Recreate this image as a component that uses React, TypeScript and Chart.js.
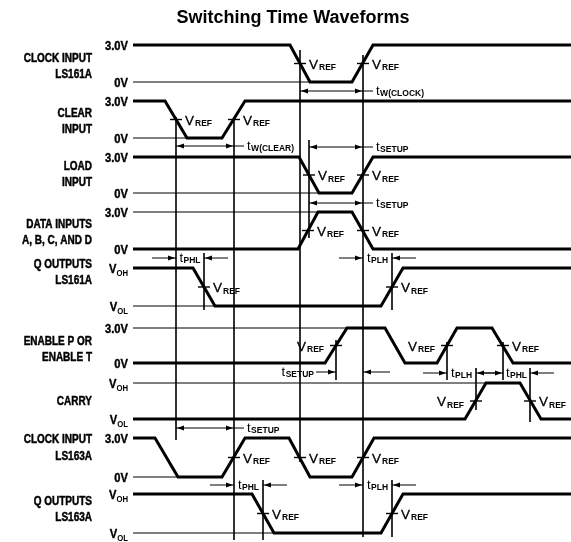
import { useEffect, useRef } from "react";
import { Chart, registerables } from "chart.js";
Chart.register(...registerables);

// ---- Axis extents (diagram units: time on x, signal rows on y) ----
const X_MIN = 0;
const X_MAX = 571;
const Y_MIN = 0;
const Y_MAX = 542;

// ---- Row levels (high / low) ----
const rowHigh = [45, 101, 157, 212, 268, 328, 383, 438, 494];
const rowLow = [82, 138, 193, 249, 306, 363, 419, 477, 533];

// level tick labels ("V|OH" = V with subscript OH)
const highLabels = ["3.0V", "3.0V", "3.0V", "3.0V", "V|OH", "3.0V", "V|OH", "3.0V", "V|OH"];
const lowLabels = ["0V", "0V", "0V", "0V", "V|OL", "0V", "V|OL", "0V", "V|OL"];

// row titles
const rowTitles = [
  ["CLOCK INPUT", "LS161A"],
  ["CLEAR", "INPUT"],
  ["LOAD", "INPUT"],
  ["DATA INPUTS", "A, B, C, AND D"],
  ["Q OUTPUTS", "LS161A"],
  ["ENABLE P OR", "ENABLE T"],
  ["CARRY"],
  ["CLOCK INPUT", "LS163A"],
  ["Q OUTPUTS", "LS163A"],
];

// ---- Waveforms: [time, state 1=high 0=low] ----
const waveClock161 = [[133, 1], [290, 1], [310, 0], [352, 0], [373, 1], [571, 1]];
const waveClear = [[133, 1], [165, 1], [187, 0], [222, 0], [245, 1], [571, 1]];
const waveLoad = [[133, 1], [299, 1], [319, 0], [352, 0], [373, 1], [571, 1]];
const waveData = [[133, 0], [298, 0], [318, 1], [352, 1], [373, 0], [571, 0]];
const waveQ161 = [[133, 1], [193, 1], [215, 0], [381, 0], [403, 1], [571, 1]];
const waveEnable = [[133, 0], [325, 0], [347, 1], [385, 1], [405, 0], [437, 0], [457, 1], [492, 1], [513, 0], [571, 0]];
const waveCarry = [[133, 0], [465, 0], [486, 1], [520, 1], [541, 0], [571, 0]];
const waveClock163 = [[133, 1], [155, 1], [178, 0], [222, 0], [245, 1], [289, 1], [310, 0], [352, 0], [374, 1], [571, 1]];
const waveQ163 = [[133, 1], [252, 1], [274, 0], [381, 0], [403, 1], [571, 1]];
const waves = [waveClock161, waveClear, waveLoad, waveData, waveQ161, waveEnable, waveCarry, waveClock163, waveQ163];

// thin reference level lines: [row, level(1 high / 0 low), from, to]
const levelLines = [
  [0, 0, 133, 310], [1, 0, 133, 187], [2, 0, 133, 319], [3, 1, 133, 318], [4, 0, 133, 215],
  [5, 1, 133, 347], [6, 1, 133, 486], [7, 0, 133, 178], [8, 0, 133, 274],
];

// VREF crossings: [row, time, label side]
const vrefMarks = [
  [0, 300, "R"], [0, 363, "R"], [1, 176, "R"], [1, 234, "R"], [2, 309, "R"], [2, 363, "R"],
  [3, 308, "R"], [3, 363, "R"], [4, 204, "R"], [4, 392, "R"], [5, 336, "L"], [5, 447, "L"],
  [5, 503, "R"], [6, 476, "L"], [6, 530, "R"], [7, 234, "R"], [7, 300, "R"], [7, 363, "R"],
  [8, 263, "R"], [8, 392, "R"],
];

// vertical reference lines: [time, top, bottom]
const guideTimes = [176, 234, 300, 363, 309, 204, 392, 336, 447, 476, 503, 530, 263, 392];
const guideTop = [117, 117, 50, 55, 140, 253, 253, 340, 342, 368, 342, 368, 480, 480];
const guideBottom = [440, 540, 462, 537, 238, 310, 310, 380, 380, 410, 380, 422, 540, 537];

// timing intervals
const intervalSubs = ["W(CLOCK)", "W(CLEAR)", "SETUP", "SETUP", "PHL", "PLH", "SETUP", "PLH", "PHL", "SETUP", "PHL", "PLH"];
const intervalFrom = [300, 176, 309, 309, 176, 363, 336, 447, 503, 176, 234, 363];
const intervalTo = [363, 234, 363, 363, 204, 392, 363, 476, 530, 234, 263, 392];
const intervalKind = ["in", "in", "in", "in", "out", "out", "outL", "out", "out", "in", "out", "out"];
const intervalY = [91, 146, 147, 203, 258, 258, 372, 373, 373, 428, 485, 485];

const TITLE = "Switching Time Waveforms";

const SANS = '"Liberation Sans", Arial, Helvetica, sans-serif';

function seg(points: { x: number; y: number }[], width: number) {
  return {
    data: points,
    showLine: true,
    borderColor: "#000",
    backgroundColor: "#000",
    borderWidth: width,
    pointRadius: 0,
    pointHoverRadius: 0,
    fill: false,
    tension: 0,
    borderJoinStyle: "miter" as const,
    borderCapStyle: "butt" as const,
  };
}

function buildDatasets() {
  const ds: any[] = [];
  levelLines.forEach(([r, lv, a, b]) => {
    const y = lv ? rowHigh[r as number] : rowLow[r as number];
    ds.push(seg([{ x: a as number, y }, { x: b as number, y }], 1));
  });
  guideTimes.forEach((t, i) => {
    ds.push(seg([{ x: t, y: guideTop[i] }, { x: t, y: guideBottom[i] }], 1.6));
  });
  intervalFrom.forEach((a, i) => {
    const b = intervalTo[i];
    const y = intervalY[i];
    const k = intervalKind[i];
    if (k === "in") {
      ds.push(seg([{ x: a, y }, { x: b + 10, y }], 1));
    } else if (k === "out") {
      ds.push(seg([{ x: a - 24, y }, { x: a, y }], 1));
      ds.push(seg([{ x: b, y }, { x: b + 24, y }], 1));
    } else {
      ds.push(seg([{ x: a - 20, y }, { x: a, y }], 1));
      ds.push(seg([{ x: b, y }, { x: b + 27, y }], 1));
    }
  });
  vrefMarks.forEach(([r, t]) => {
    const mid = (rowHigh[r as number] + rowLow[r as number]) / 2;
    ds.push(seg([{ x: (t as number) - 6, y: mid }, { x: (t as number) + 6, y: mid }], 1.4));
  });
  waves.forEach((w, i) => {
    ds.push(seg(w.map(([t, s]) => ({ x: t, y: s ? rowHigh[i] : rowLow[i] })), 3));
  });
  return ds;
}

// draws text with optional subscript; sx = horizontal compression, sw = extra stroke weight
function drawSub(
  ctx: CanvasRenderingContext2D, x: number, y: number, main: string, sub: string,
  mainFont: string, subFont: string, align: string, subDy: number, gap = 0.5, sx = 1, sw = 0
) {
  ctx.font = mainFont;
  const w1 = ctx.measureText(main).width;
  ctx.font = subFont;
  const w2 = sub ? ctx.measureText(sub).width : 0;
  const total = (w1 + (sub ? gap + w2 : 0)) * sx;
  const x0 = align === "left" ? x : align === "right" ? x - total : x - total / 2;
  ctx.save();
  ctx.translate(x0, y);
  ctx.scale(sx, 1);
  ctx.textAlign = "left";
  ctx.textBaseline = "alphabetic";
  ctx.strokeStyle = "#000";
  ctx.lineWidth = sw;
  ctx.lineJoin = "round";
  ctx.font = mainFont;
  ctx.fillText(main, 0, 0);
  if (sw > 0) ctx.strokeText(main, 0, 0);
  if (sub) {
    ctx.font = subFont;
    ctx.fillText(sub, w1 + gap, subDy);
  }
  ctx.restore();
}

const annotPlugin = {
  id: "timingAnnotations",
  afterDatasetsDraw(chart: any) {
    const ctx: CanvasRenderingContext2D = chart.ctx;
    const xs = chart.scales.x;
    const ys = chart.scales.y;
    const px = (v: number) => xs.getPixelForValue(v);
    const py = (v: number) => ys.getPixelForValue(v);
    ctx.save();
    ctx.fillStyle = "#000";

    // title
    ctx.font = `bold 18px ${SANS}`;
    ctx.textAlign = "center";
    ctx.textBaseline = "alphabetic";
    ctx.fillText(TITLE, px(293), py(23));

    // row titles (condensed bold)
    const titleY = [[57, 73], [112, 128], [165, 181], [223, 239], [263, 279], [340, 356], [400], [438, 455], [500, 516]];
    rowTitles.forEach((lines, i) => {
      lines.forEach((ln, j) =>
        drawSub(ctx, px(92), py(titleY[i][j]) + 4.5, ln, "", `bold 12.5px ${SANS}`, `bold 9px ${SANS}`, "right", 0, 0, 0.8, 0.5)
      );
    });

    // level labels
    const lvl = (label: string, y: number) => {
      const [m, s] = label.split("|");
      drawSub(ctx, px(128), py(y) + 4.5, m, s || "", `bold 13px ${SANS}`, `bold 9px ${SANS}`, "right", 3, 0, 0.86, 0.4);
    };
    rowHigh.forEach((y, i) => lvl(highLabels[i], y));
    rowLow.forEach((y, i) => lvl(lowLabels[i], y));

    // VREF labels
    vrefMarks.forEach(([r, t, side]) => {
      const mid = (rowHigh[r as number] + rowLow[r as number]) / 2;
      const x = side === "R" ? px((t as number) + 9) : px((t as number) - 12);
      drawSub(ctx, x, py(mid) + 5, "V", "REF", `13.5px ${SANS}`, `bold 8.5px ${SANS}`, side === "R" ? "left" : "right", 1.5, 1, 1, 0.3);
    });

    // arrowheads + interval labels
    const head = (tip: number, y: number, dir: number) => {
      const L = 7, hw = 2.6;
      ctx.beginPath();
      ctx.moveTo(tip, y);
      ctx.lineTo(tip - dir * L, y - hw);
      ctx.lineTo(tip - dir * L, y + hw);
      ctx.closePath();
      ctx.fill();
    };
    intervalFrom.forEach((a, i) => {
      const b = intervalTo[i];
      const y = py(intervalY[i]);
      const k = intervalKind[i];
      const sub = intervalSubs[i];
      const mf = `13px ${SANS}`;
      const sf = `bold 8.5px ${SANS}`;
      if (k === "in") {
        head(px(a) + 1, y, -1);
        head(px(b) - 1, y, 1);
        drawSub(ctx, px(b + 13), y + 4, "t", sub, mf, sf, "left", 1, 0.5);
      } else {
        head(px(a) - 1, y, 1);
        head(px(b) + 1, y, -1);
        if (k === "out") drawSub(ctx, px((a + b) / 2), y + 4, "t", sub, mf, sf, "center", 1, 0.5);
        else drawSub(ctx, px(a - 22), y + 4, "t", sub, mf, sf, "right", 1, 0.5);
      }
    });
    ctx.restore();
  },
};

export default function App() {
  const ref = useRef<HTMLCanvasElement | null>(null);
  useEffect(() => {
    if (!ref.current) return;
    const chart = new Chart(ref.current, {
      type: "scatter",
      data: { datasets: buildDatasets() },
      options: {
        responsive: false,
        animation: false,
        devicePixelRatio: 1,
        events: [],
        layout: { padding: 0 },
        plugins: { legend: { display: false }, tooltip: { enabled: false }, title: { display: false } },
        scales: {
          x: { type: "linear", min: X_MIN, max: X_MAX, display: false },
          y: { type: "linear", min: Y_MIN, max: Y_MAX, reverse: true, display: false },
        },
      },
      plugins: [annotPlugin],
    } as any);
    return () => chart.destroy();
  }, []);
  return (
    <div style={{ position: "absolute", left: 0, top: 0, width: 571, height: 542, background: "#fff" }}>
      <canvas ref={ref} width={571} height={542} style={{ display: "block" }} />
    </div>
  );
}
